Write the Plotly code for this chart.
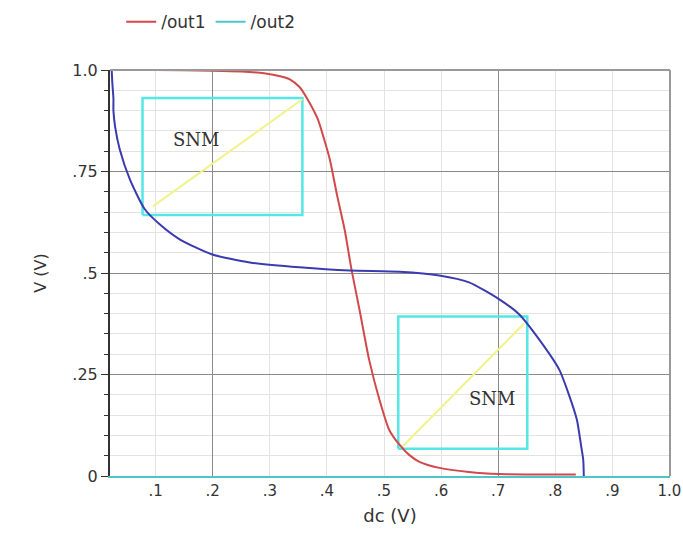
import plotly.graph_objects as go

# /out1 (red) transfer curve
out1_x = [0.02, 0.10, 0.20, 0.25, 0.29, 0.32, 0.335, 0.352, 0.366, 0.384, 0.395, 0.405, 0.418, 0.431,
          0.443, 0.457, 0.474, 0.492, 0.509, 0.527, 0.544, 0.562, 0.597, 0.649, 0.702, 0.76, 0.836]
out1_y = [1.0, 1.0, 0.998, 0.996, 0.992, 0.984, 0.977, 0.958, 0.928, 0.879, 0.83, 0.78, 0.69, 0.607,
          0.509, 0.41, 0.286, 0.188, 0.114, 0.077, 0.052, 0.035, 0.02, 0.01, 0.005, 0.004, 0.004]

# /out2 (blue) transfer curve
out2_x = [0.023, 0.024, 0.026, 0.026, 0.029, 0.037, 0.055, 0.081, 0.107, 0.142, 0.198, 0.265, 0.352,
          0.44, 0.527, 0.597, 0.649, 0.702, 0.737, 0.772, 0.807, 0.824, 0.838, 0.845, 0.849, 0.85]
out2_y = [1.0, 0.97, 0.93, 0.90, 0.86, 0.805, 0.73, 0.657, 0.62, 0.583, 0.546, 0.526, 0.514,
          0.506, 0.503, 0.494, 0.477, 0.435, 0.398, 0.336, 0.262, 0.2, 0.138, 0.077, 0.04, 0.0]

# SNM squares: [x0, x1, y0, y1]
snm_boxes = [[0.077, 0.357, 0.643, 0.931], [0.525, 0.751, 0.067, 0.393]]
# SNM diagonals: [x0, y0, x1, y1]
snm_diagonals = [[0.095, 0.664, 0.357, 0.928], [0.532, 0.072, 0.745, 0.375]]
snm_labels = [[0.172, 0.83], [0.69, 0.19]]

x_ticks = [0.1, 0.2, 0.3, 0.4, 0.5, 0.6, 0.7, 0.8, 0.9, 1.0]
x_ticktext = [".1", ".2", ".3", ".4", ".5", ".6", ".7", ".8", ".9", "1.0"]
y_ticks = [0, 0.25, 0.5, 0.75, 1.0]
y_ticktext = ["0", ".25", ".5", ".75", "1.0"]
x_major_grid = [0.2, 0.7]

RED = "#d2494b"
BLUE = "#3b3bb0"
TEAL = "#4cc6c6"
CYAN = "#55e6e6"
YELLOW = "#f2f28a"

fig = go.Figure()

# SNM boxes and diagonals
for (x0, x1, y0, y1) in snm_boxes:
    fig.add_trace(go.Scatter(x=[x0, x1, x1, x0, x0], y=[y0, y0, y1, y1, y0], mode="lines",
                             line=dict(color=CYAN, width=2.5), showlegend=False, hoverinfo="skip"))
for (x0, y0, x1, y1) in snm_diagonals:
    fig.add_trace(go.Scatter(x=[x0, x1], y=[y0, y1], mode="lines",
                             line=dict(color=YELLOW, width=2), showlegend=False, hoverinfo="skip"))

fig.add_trace(go.Scatter(x=out1_x, y=out1_y, mode="lines", name="/out1",
                         line=dict(color=RED, width=2, shape="spline", smoothing=0.6)))
fig.add_trace(go.Scatter(x=out2_x, y=out2_y, mode="lines", name="/out2", showlegend=False,
                         line=dict(color=BLUE, width=2, shape="spline", smoothing=0.6)))
fig.add_trace(go.Scatter(x=[None], y=[None], mode="lines", name="/out2",
                         line=dict(color=TEAL, width=2)))

# dark major grid (secondary axis)
fig.add_trace(go.Scatter(x=[None], y=[None], xaxis="x2", showlegend=False))

for (lx, ly) in snm_labels:
    fig.add_annotation(x=lx, y=ly, text="SNM", showarrow=False,
                       font=dict(family="DejaVu Serif", size=18, color="#333333"))

fig.update_layout(
    width=683, height=537,
    margin=dict(l=110, r=13, t=70, b=61, autoexpand=False),
    paper_bgcolor="white", plot_bgcolor="white",
    font=dict(family="DejaVu Sans", color="#333333", size=16),
    legend=dict(orientation="h", x=0.02, y=1.118, xanchor="left", yanchor="middle",
                font=dict(size=17, color="#333333"), itemwidth=30, bgcolor="rgba(0,0,0,0)"),
    xaxis=dict(range=[0.02, 1.001], tickvals=x_ticks, ticktext=x_ticktext,
               ticklabeloverflow="allow", tickfont=dict(size=15),
               showgrid=True, gridcolor="#e3e3e3", gridwidth=1,
               showline=True, linecolor=TEAL, linewidth=2, mirror=False,
               ticks="", zeroline=False,
               title=dict(text="dc (V)", font=dict(size=18, color="#333333"), standoff=10)),
    xaxis2=dict(range=[0.02, 1.001], overlaying="x", tickvals=x_major_grid, showticklabels=False,
                showgrid=True, gridcolor="#8a8a8a", gridwidth=1, ticks="", zeroline=False,
                showline=False, layer="below traces"),
    yaxis=dict(range=[0, 1.0], tickvals=y_ticks, ticktext=y_ticktext, tickfont=dict(size=16),
               showgrid=True, gridcolor="#8a8a8a", gridwidth=1,
               minor=dict(dtick=0.05, showgrid=True, gridcolor="#e3e3e3", ticks="outside",
                          ticklen=4, tickcolor="#333333"),
               showline=True, linecolor="#333333", linewidth=2,
               ticks="outside", ticklen=7, tickcolor="#333333", zeroline=False,
               title=dict(text="V (V)", font=dict(size=16, color="#333333"), standoff=22)),
)

# top and right border
fig.add_shape(type="line", xref="paper", yref="paper", x0=0, x1=1, y0=1, y1=1,
              line=dict(color="#999999", width=2))
fig.add_shape(type="line", xref="paper", yref="paper", x0=1, x1=1, y0=0, y1=1,
              line=dict(color="#999999", width=2))

fig.write_html("out.html")
